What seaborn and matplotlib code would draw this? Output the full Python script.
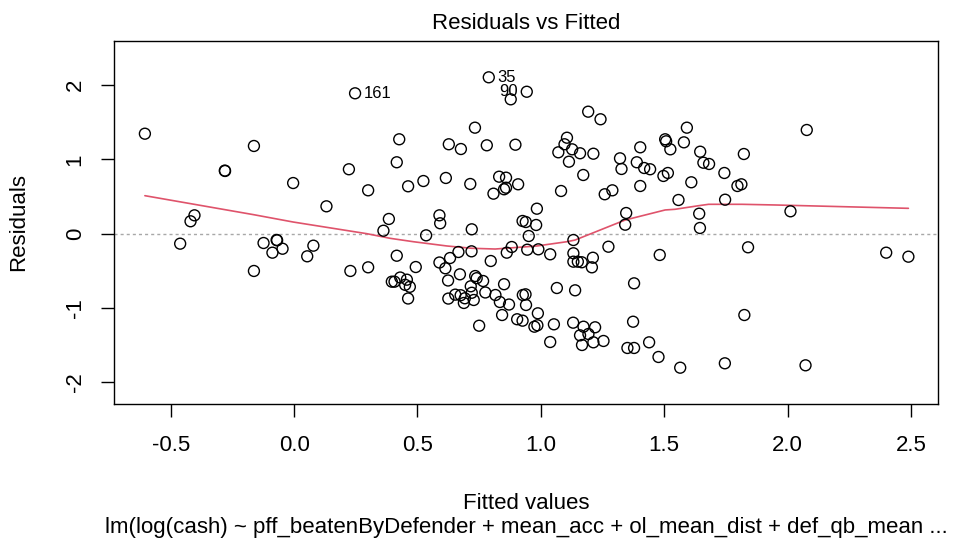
import numpy as np
import matplotlib
matplotlib.use("Agg")
import matplotlib.pyplot as plt
import seaborn as sns

# fitted values / residuals
fitted = [
    -0.605, -0.462, -0.420, -0.404, -0.280, -0.281, -0.163, -0.163, -0.124, -0.088,
    -0.069, -0.071, -0.047, -0.004, 0.053, 0.078, 0.131, 0.222, 0.228, 0.247,
    0.300, 0.300, 0.362, 0.384,
    0.789, 0.943, 0.878, 0.733, 0.426, 0.627, 0.676, 0.781, 0.897, 1.106,
    1.096, 1.071, 1.127, 1.114, 0.416, 1.159, 0.524, 0.462, 0.615, 0.714,
    0.831, 0.859, 0.808, 0.851, 0.859, 0.908, 1.082, 1.172, 0.589, 0.592,
    0.535, 0.720, 0.984, 0.926, 0.939, 0.981, 0.951, 1.132, 0.416, 0.493,
    0.589, 0.632, 0.666, 0.613, 0.719, 0.797, 0.862, 0.882, 0.945, 0.990,
    1.038, 1.132, 1.132, 1.150, 1.166, 0.396, 0.407, 0.430, 0.457, 0.450,
    0.469, 0.462, 0.624, 0.672, 0.734, 0.740, 0.766, 0.851, 0.716, 0.720,
    0.775, 0.625, 0.653, 0.675, 0.692, 0.688, 0.728, 0.816, 0.834, 0.871,
    0.927, 0.938, 0.940, 1.065, 1.139, 0.750, 0.843, 0.904, 0.926, 0.974,
    0.986, 0.988, 1.053, 1.131, 1.038, 1.159, 1.167,
    1.192, 1.242, 1.213, 1.259, 1.290, 1.321, 1.327, 1.389, 1.403, 1.419,
    1.443, 1.403, 1.504, 1.508, 1.525, 1.497, 1.515, 1.592, 1.580, 1.646,
    1.659, 1.682, 1.610, 1.558, 1.744, 1.823, 1.797, 1.813, 1.747, 1.346,
    1.342, 1.642, 1.645, 1.274, 1.211, 1.207, 1.482, 1.840, 1.378, 1.173,
    1.220, 1.193, 1.213, 1.254, 1.374, 1.351, 1.378, 1.439, 1.477, 1.565,
    1.746, 1.825,
    2.078, 2.012, 2.400, 2.490, 2.073,
]
residuals = [
    1.344, -0.134, 0.167, 0.247, 0.843, 0.848, 1.179, -0.501, -0.125, -0.255,
    -0.089, -0.084, -0.202, 0.681, -0.304, -0.161, 0.368, 0.866, -0.501, 1.887,
    0.583, -0.452, 0.040, 0.198,
    2.102, 1.908, 1.806, 1.425, 1.269, 1.202, 1.138, 1.188, 1.196, 1.290,
    1.202, 1.094, 1.134, 0.968, 0.960, 1.081, 0.708, 0.637, 0.749, 0.668,
    0.766, 0.753, 0.538, 0.597, 0.618, 0.664, 0.574, 0.789, 0.247, 0.140,
    -0.022, 0.059, 0.336, 0.171, 0.157, 0.117, -0.031, -0.085, -0.296, -0.448,
    -0.387, -0.327, -0.246, -0.465, -0.237, -0.367, -0.255, -0.179, -0.215, -0.210,
    -0.277, -0.263, -0.376, -0.376, -0.384, -0.645, -0.645, -0.589, -0.618, -0.687,
    -0.714, -0.871, -0.629, -0.546, -0.569, -0.598, -0.636, -0.679, -0.707, -0.794,
    -0.790, -0.872, -0.819, -0.827, -0.868, -0.931, -0.891, -0.824, -0.918, -0.952,
    -0.824, -0.815, -0.958, -0.730, -0.761, -1.237, -1.093, -1.150, -1.169, -1.250,
    -1.231, -1.070, -1.218, -1.196, -1.456, -1.366, -1.496,
    1.640, 1.538, 1.075, 0.530, 0.583, 1.013, 0.870, 0.960, 1.161, 0.883,
    0.866, 0.641, 1.269, 1.242, 1.134, 0.776, 0.816, 1.425, 1.228, 1.102,
    0.954, 0.937, 0.691, 0.453, 0.816, 1.071, 0.641, 0.664, 0.457, 0.278,
    0.121, 0.269, 0.077, -0.175, -0.323, -0.452, -0.286, -0.183, -0.667, -1.250,
    -1.258, -1.348, -1.460, -1.442, -1.183, -1.536, -1.536, -1.460, -1.657, -1.801,
    -1.742, -1.093,
    1.394, 0.301, -0.255, -0.309, -1.769,
]

# the three labelled observations
label_ids = ["35", "90", "161"]
label_fitted = [0.789, 0.943, 0.247]
label_resid = [2.102, 1.908, 1.887]
label_side = ["right", "left", "right"]

# red smoother
smooth_x = [-0.605, -0.163, -0.004, 0.295, 0.389, 0.484, 0.619, 0.720, 0.815, 0.984,
            1.105, 1.139, 1.207, 1.274, 1.342, 1.504, 1.544, 1.639, 1.680, 1.815,
            1.950, 2.490]
smooth_y = [0.511, 0.255, 0.157, 0.0, -0.062, -0.108, -0.165, -0.196, -0.206, -0.165,
            -0.108, -0.085, 0.005, 0.094, 0.184, 0.319, 0.328, 0.376, 0.395, 0.395,
            0.386, 0.341]

x_ticks = [-0.5, 0.0, 0.5, 1.0, 1.5, 2.0, 2.5]
y_ticks = [-2, -1, 0, 1, 2]

sns.set_theme(style="white")
plt.rcParams["font.family"] = ["Liberation Sans", "DejaVu Sans"]
plt.rcParams["axes.unicode_minus"] = False
plt.rcParams["text.color"] = "black"

W, H = 957, 540
fig = plt.figure(figsize=(W / 100, H / 100), dpi=100)
ax = fig.add_axes([114.3 / W, 1 - 404 / H, (938 - 114.3) / W, (404 - 41) / H])

ax.axhline(0, color="#a8a8a8", lw=1.0, ls=(0, (2.2, 2.2)), zorder=1)
sns.lineplot(x=smooth_x, y=smooth_y, color="#DF536B", lw=1.2, sort=False,
             estimator=None, ax=ax, zorder=2)
sns.scatterplot(x=fitted, y=residuals, s=62, facecolors="none", edgecolor="black",
                linewidth=1.0, ax=ax, zorder=3)

for lab, fx, ry, side in zip(label_ids, label_fitted, label_resid, label_side):
    off = 6.5 if side == "right" else -6.5
    ax.annotate(lab, (fx, ry), xytext=(off, 0), textcoords="offset points",
                ha="left" if side == "right" else "right", va="center",
                fontsize=12, color="black")

ax.set_xlim(-0.729, 2.610)
ax.set_ylim(-2.289, 2.590)
ax.set_xticks(x_ticks)
ax.set_xticklabels([f"{t:.1f}" for t in x_ticks])
ax.set_yticks(y_ticks)
ax.set_yticklabels([str(t) for t in y_ticks], rotation=90, va="center")
ax.set_xlabel("")
ax.set_ylabel("")

for sp in ax.spines.values():
    sp.set_color("black")
    sp.set_linewidth(1.0)
ax.tick_params(axis="both", which="major", direction="out", length=9.6, width=1.0,
               color="black", labelsize=16, labelcolor="black",
               bottom=True, left=True, top=False, right=False)
ax.tick_params(axis="x", pad=13)
ax.tick_params(axis="y", pad=11)

cx = 526 / W
fig.text(cx, 1 - 29.3 / H, "Residuals vs Fitted", ha="center", va="baseline", fontsize=16)
fig.text(cx, 1 - 509.3 / H, "Fitted values", ha="center", va="baseline", fontsize=16)
fig.text(cx, 1 - 533.3 / H,
         "lm(log(cash) ~ pff_beatenByDefender + mean_acc + ol_mean_dist + def_qb_mean ...",
         ha="center", va="baseline", fontsize=16)
fig.text(18.9 / W, 1 - 222.5 / H, "Residuals", rotation=90, ha="center", va="center",
         fontsize=16)

fig.savefig("out.png", dpi=100, facecolor="white")
